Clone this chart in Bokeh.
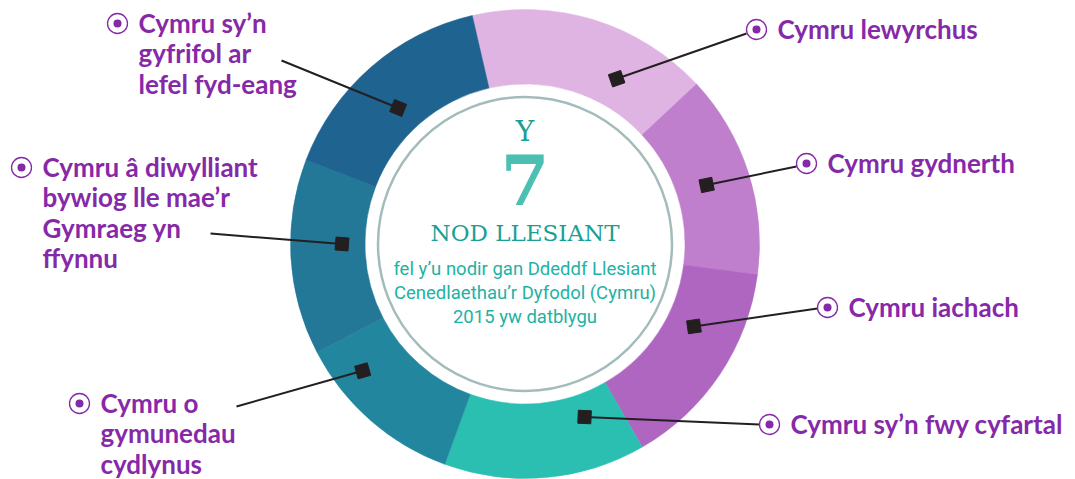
import math
from bokeh.plotting import figure
from bokeh.models import Range1d, ColumnDataSource
from bokeh.core.properties import value
from bokeh.embed import file_html
from bokeh.resources import INLINE

# ---- data ----
goals = [
    "Cymru lewyrchus",
    "Cymru gydnerth",
    "Cymru iachach",
    "Cymru sy’n fwy cyfartal",
    "Cymru o\ngymunedau\ncydlynus",
    "Cymru â diwylliant\nbywiog lle mae’r\nGymraeg yn\nffynnu",
    "Cymru sy’n\ngyfrifol ar\nlefel fyd-eang",
]
shares = [60, 50.5, 52.5, 50, 42.5, 48.5, 56]
colors = ["#dfb4e3", "#c07fcc", "#ae66c1", "#2bbfb1", "#22869e", "#237898", "#1f6390"]

center_lines = ["Y", "7", "NOD LLESIANT"]
subtitle_lines = ["fel y’u nodir gan Ddeddf Llesiant",
                  "Cenedlaethau’r Dyfodol (Cymru)",
                  "2015 yw datblygu"]

# ---- layout (reference pixel coordinates, y downward) ----
CX, CY = 524.5, 243.5
R_IN, R_OUT, R_GRAY = 160, 234.5, 147
START_BEARING = -13.0
marker_bearing = [29, 72, 116, 161, 232, 270, 317]
marker_radius = [189, 191, 188, 183, 206, 183, 186]
line_end = [(746, 33), (796, 166), (817, 308), (759, 424), (236, 406), (210, 233), (281, 60)]
bullet = [(756, 29), (806, 163), (827, 307), (769, 424), (79, 403), (21, 167), (117, 23)]
TEXT_DX = 21
LINE_STEP = 30.5

W, H = 1075, 479


def fy(y):
    return H - y


p = figure(width=W, height=H, output_backend="svg", toolbar_location=None,
           x_range=Range1d(0, W), y_range=Range1d(0, H), min_border=0)
p.axis.visible = False
p.grid.visible = False
p.outline_line_color = None
p.background_fill_color = "white"
p.border_fill_color = "white"

# wedges
total = sum(shares)
b0 = START_BEARING
starts, ends = [], []
for s in shares:
    b1 = b0 + s / total * 360.0
    starts.append(math.radians(90 - b1))
    ends.append(math.radians(90 - b0))
    b0 = b1
src = ColumnDataSource(dict(start=starts, end=ends, color=colors))
p.annular_wedge(x=CX, y=fy(CY), inner_radius=R_IN, outer_radius=R_OUT,
                start_angle="start", end_angle="end", fill_color="color",
                line_color="color", line_width=0.5, source=src)

# inner gray circle
p.circle(x=CX, y=fy(CY), radius=R_GRAY, fill_color="white", line_color="#a3bcbb", line_width=2.5)

# leader lines, squares
mx, my, ang = [], [], []
for b, r, (ex, ey) in zip(marker_bearing, marker_radius, line_end):
    x = CX + r * math.sin(math.radians(b))
    y = fy(CY) + r * math.cos(math.radians(b))
    mx.append(x)
    my.append(y)
    ang.append(math.atan2(fy(ey) - y, ex - x))
    p.line([x, ex], [y, fy(ey)], line_color="#231f20", line_width=2)
p.scatter(mx, my, marker="square", size=13, angle=ang, fill_color="#231f20", line_color="#231f20")

# bullets
bx = [b[0] for b in bullet]
by = [fy(b[1]) for b in bullet]
p.circle(bx, by, radius=10, fill_color="white", line_color="#8629a8", line_width=1.3)
p.circle(bx, by, radius=4, fill_color="#8629a8", line_color=None)

# labels
tx, ty, tt = [], [], []
for g, (x, y) in zip(goals, bullet):
    for i, ln in enumerate(g.split("\n")):
        tx.append(x + TEXT_DX)
        ty.append(fy(y - 1 + i * LINE_STEP))
        tt.append(ln)
p.text(tx, ty, text=tt, text_font=value("Lato"), text_font_style="bold",
       text_font_size="26px", text_color="#8629a8", text_baseline="middle", text_align="left")

# center texts
p.text([CX], [fy(131)], text=[center_lines[0]], text_font=value("DejaVu Serif"),
       text_font_size="28px", text_color="#1a9f96", text_align="center", text_baseline="middle")
p.text([CX], [fy(179)], text=[center_lines[1]], text_font=value("DejaVu Serif"),
       text_font_size="70px", text_font_style="bold", text_color="#4bbfb1",
       text_align="center", text_baseline="middle")
p.text([CX], [fy(232)], text=[center_lines[2]], text_font=value("DejaVu Serif"),
       text_font_size="23px", text_color="#1a9f96", text_align="center", text_baseline="middle")
p.text([CX] * 3, [fy(268), fy(292), fy(316)], text=subtitle_lines, text_font=value("Roboto"),
       text_font_size="18.5px", text_color="#22b2a4", text_align="center", text_baseline="middle")

open("out.html", "w").write(file_html(p, INLINE))
